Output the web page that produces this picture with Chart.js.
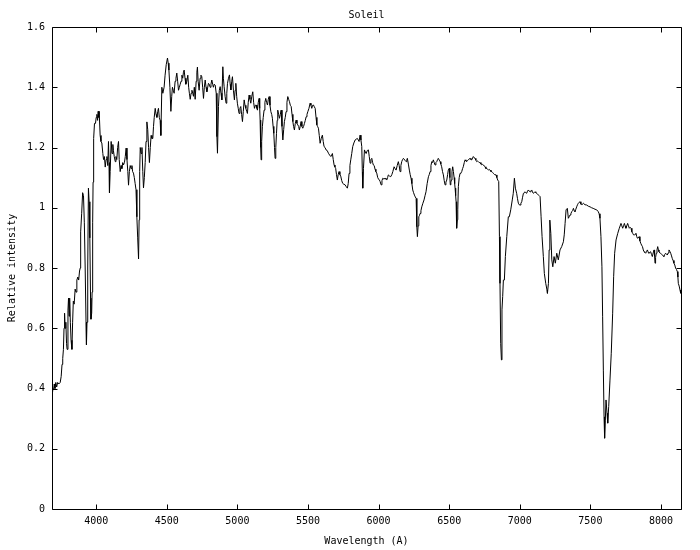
<!DOCTYPE html>
<html>
<head>
<meta charset="utf-8">
<title>Soleil</title>
<script src="https://cdn.jsdelivr.net/npm/chart.js@4.4.1/dist/chart.umd.min.js"></script>
<style>
  html, body { margin: 0; padding: 0; background: #fff; }
  canvas { display: block; }
</style>
</head>
<body>
<canvas id="chartSoleil" width="700" height="550"></canvas>
<script>
var titre = 'Soleil'
var labelX = 'Wavelength (A)'
var labelY = 'Relative intensity'

var xTicks = [4000, 4500, 5000, 5500, 6000, 6500, 7000, 7500, 8000]
var yTicks = [0, 0.2, 0.4, 0.6, 0.8, 1, 1.2, 1.4, 1.6]
var xMin = 3687
var xMax = 8142
var yMin = 0
var yMax = 1.6

// spectre : [longueur d'onde (A), intensite relative]
var spectrum = [
  [3687,0.39],[3692,0.40],[3698,0.395],[3703,0.415],[3708,0.40],[3714,0.42],[3720,0.405],[3727,0.42],[3735,0.415],[3745,0.42],
  [3752,0.44],[3758,0.48],[3763,0.50],[3768,0.53],[3772,0.60],[3776,0.65],[3780,0.60],[3785,0.62],[3790,0.55],[3794,0.53],
  [3800,0.66],[3804,0.70],[3808,0.64],[3812,0.70],[3817,0.62],[3822,0.56],[3828,0.53],[3833,0.62],[3838,0.69],[3844,0.68],
  [3851,0.73],[3857,0.72],[3863,0.76],[3870,0.77],[3876,0.76],[3882,0.79],[3887,0.80],
  [3890,0.92],[3897,0.98],[3904,1.05],[3910,1.04],[3916,0.95],[3922,0.80],[3928,0.62],[3931,0.545],[3935,0.62],[3940,0.80],
  [3945,1.065],[3950,1.02],[3955,0.90],[3960,0.70],[3963,0.63],[3968,0.65],[3971,0.72],[3975,0.95],[3978,1.085],[3982,1.23],
  [3988,1.28],[3995,1.28],[4000,1.30],[4005,1.31],[4010,1.29],[4014,1.32],[4018,1.30],[4021,1.32],[4028,1.24],[4034,1.22],
  [4040,1.215],[4047,1.18],[4052,1.16],[4058,1.17],[4064,1.135],[4070,1.16],[4076,1.17],[4082,1.14],[4087,1.22],[4091,1.15],
  [4094,1.05],[4099,1.12],[4106,1.22],[4112,1.18],[4118,1.21],[4122,1.19],[4128,1.17],[4135,1.153],[4140,1.17],[4146,1.16],
  [4152,1.20],[4158,1.22],[4163,1.16],[4170,1.12],[4176,1.14],[4182,1.13],[4188,1.15],[4193,1.142],[4200,1.15],[4206,1.17],
  [4212,1.198],[4218,1.16],[4224,1.12],[4229,1.075],[4235,1.12],[4241,1.14],[4247,1.13],[4253,1.14],[4258,1.12],[4264,1.115],
  [4270,1.10],[4276,1.08],[4282,1.06],[4288,0.97],[4294,0.90],[4300,0.83],[4304,0.96],[4308,1.12],[4312,1.20],[4318,1.18],
  [4324,1.20],[4330,1.12],[4335,1.066],[4341,1.10],[4347,1.15],[4353,1.22],[4359,1.285],[4365,1.26],[4371,1.20],[4377,1.15],
  [4383,1.20],[4389,1.24],[4395,1.23],[4401,1.23],[4406,1.27],[4411,1.30],[4418,1.33],[4424,1.31],[4430,1.30],[4436,1.32],
  [4441,1.33],[4447,1.30],[4453,1.29],[4458,1.24],[4465,1.40],[4472,1.38],[4481,1.40],[4488,1.44],[4496,1.475],[4505,1.497],
  [4510,1.48],[4515,1.457],[4522,1.40],[4529,1.32],[4535,1.37],[4540,1.40],[4546,1.39],[4552,1.38],[4559,1.42],[4565,1.43],
  [4571,1.447],[4577,1.42],[4583,1.39],[4589,1.40],[4595,1.41],[4601,1.42],[4607,1.44],[4613,1.43],[4618,1.45],[4623,1.457],
  [4629,1.43],[4635,1.41],[4642,1.42],[4649,1.44],[4655,1.40],[4660,1.38],[4666,1.36],[4672,1.38],[4678,1.39],[4684,1.38],
  [4689,1.37],[4695,1.40],[4701,1.36],[4708,1.42],[4713,1.45],[4717,1.467],[4722,1.42],[4729,1.39],
  [4736,1.43],[4742,1.44],[4748,1.435],[4754,1.40],[4760,1.363],[4766,1.40],[4772,1.424],[4778,1.40],[4784,1.385],[4790,1.40],
  [4795,1.413],[4801,1.41],[4807,1.40],[4813,1.41],[4819,1.424],[4825,1.41],[4830,1.40],[4836,1.41],[4843,1.407],[4850,1.38],
  [4855,1.236],[4859,1.181],[4866,1.336],[4872,1.39],[4878,1.402],[4884,1.38],[4890,1.358],[4897,1.468],[4901,1.43],[4906,1.402],
  [4913,1.37],[4920,1.347],[4925,1.38],[4930,1.413],[4937,1.43],[4944,1.441],[4949,1.41],[4954,1.391],[4960,1.42],[4965,1.435],
  [4972,1.39],[4979,1.358],[4984,1.39],[4989,1.413],[4995,1.37],[5000,1.347],[5006,1.33],[5012,1.313],[5018,1.33],[5024,1.336],
  [5030,1.31],[5036,1.286],[5042,1.32],[5048,1.358],[5054,1.34],[5060,1.330],[5066,1.32],[5071,1.313],[5077,1.35],[5083,1.374],
  [5089,1.36],[5095,1.347],[5102,1.37],[5109,1.385],[5115,1.35],[5121,1.330],[5127,1.34],[5133,1.341],[5138,1.33],[5142,1.324],
  [5148,1.35],[5154,1.363],[5158,1.33],[5161,1.291],[5165,1.20],[5168,1.159],[5172,1.22],[5177,1.269],[5183,1.30],[5189,1.324],
  [5195,1.35],[5201,1.363],[5207,1.35],[5213,1.341],[5219,1.36],[5225,1.369],[5231,1.34],[5237,1.319],[5243,1.31],[5248,1.297],
  [5253,1.27],[5258,1.247],[5263,1.20],[5267,1.164],[5272,1.20],[5277,1.247],[5282,1.29],[5286,1.324],[5292,1.31],[5298,1.297],
  [5304,1.31],[5310,1.324],[5316,1.27],[5322,1.225],[5328,1.26],[5333,1.286],[5339,1.30],[5345,1.319],[5351,1.35],[5357,1.369],
  [5363,1.36],[5369,1.352],[5375,1.34],[5381,1.336],[5387,1.31],[5393,1.286],[5398,1.27],[5404,1.258],[5410,1.28],[5416,1.291],
  [5422,1.28],[5428,1.275],[5434,1.27],[5439,1.258],[5445,1.27],[5451,1.286],[5457,1.27],[5463,1.264],[5469,1.27],[5475,1.280],
  [5481,1.29],[5487,1.302],[5493,1.31],[5499,1.319],[5507,1.33],[5515,1.347],[5521,1.34],[5527,1.330],[5533,1.34],[5539,1.341],
  [5545,1.335],[5551,1.33],[5557,1.30],[5563,1.275],[5568,1.27],[5574,1.264],[5580,1.24],[5586,1.214],[5594,1.23],[5602,1.241],
  [5608,1.22],[5614,1.203],[5621,1.20],[5628,1.192],[5636,1.19],[5645,1.181],[5653,1.175],[5662,1.170],[5668,1.175],[5673,1.18],
  [5679,1.16],[5685,1.142],[5691,1.135],[5696,1.131],[5702,1.11],[5708,1.092],[5714,1.11],[5720,1.120],[5726,1.11],[5732,1.105],
  [5739,1.09],[5746,1.081],[5754,1.078],[5763,1.076],[5771,1.07],[5779,1.065],[5785,1.08],[5791,1.114],[5797,1.14],[5803,1.159],
  [5810,1.18],[5817,1.203],[5825,1.215],[5834,1.225],[5842,1.228],[5850,1.230],[5856,1.225],[5862,1.22],[5869,1.241],[5875,1.225],
  [5881,1.203],[5885,1.12],[5888,1.065],[5893,1.13],[5900,1.192],[5906,1.185],[5912,1.18],[5920,1.19],[5928,1.192],[5934,1.17],
  [5940,1.148],[5946,1.16],[5952,1.164],[5958,1.15],[5963,1.142],[5969,1.14],[5975,1.128],[5981,1.12],[5987,1.115],[5994,1.10],
  [6000,1.095],[6006,1.092],[6011,1.087],[6018,1.076],[6024,1.09],[6030,1.098],[6038,1.095],[6046,1.098],[6052,1.095],[6058,1.092],
  [6064,1.10],[6069,1.109],[6078,1.105],[6086,1.103],[6094,1.11],[6101,1.120],[6110,1.136],[6117,1.13],[6124,1.125],[6132,1.14],
  [6140,1.153],[6146,1.14],[6152,1.120],[6158,1.14],[6164,1.153],[6170,1.16],[6176,1.164],[6186,1.158],[6195,1.153],[6200,1.16],
  [6204,1.164],[6211,1.145],[6218,1.125],[6224,1.11],[6230,1.098],[6236,1.08],[6242,1.059],[6248,1.05],[6254,1.042],[6260,1.036],
  [6266,1.031],[6271,0.937],[6275,0.904],[6280,0.94],[6285,0.970],[6290,0.975],[6294,0.981],[6300,0.99],[6306,1.003],[6314,1.015],
  [6322,1.026],[6329,1.04],[6336,1.053],[6344,1.08],[6353,1.103],[6359,1.11],[6365,1.120],[6371,1.14],[6377,1.153],[6382,1.15],
  [6388,1.159],[6394,1.15],[6400,1.142],[6406,1.15],[6412,1.153],[6418,1.16],[6423,1.164],[6430,1.158],[6436,1.153],[6441,1.145],
  [6447,1.136],[6453,1.12],[6459,1.109],[6465,1.09],[6471,1.076],[6477,1.085],[6483,1.092],[6489,1.11],[6494,1.125],[6501,1.131],
  [6505,1.10],[6508,1.076],[6512,1.085],[6516,1.092],[6520,1.12],[6525,1.136],[6530,1.12],[6535,1.10],[6539,1.08],[6542,1.065],
  [6546,1.04],[6549,1.020],[6552,0.96],[6554,0.932],[6558,0.96],[6561,0.993],[6565,1.070],[6571,1.10],[6577,1.114],[6583,1.115],
  [6589,1.120],[6595,1.13],[6600,1.136],[6607,1.15],[6613,1.159],[6619,1.155],[6624,1.153],[6630,1.157],[6636,1.159],[6642,1.162],
  [6648,1.164],[6654,1.16],[6660,1.159],[6666,1.165],[6671,1.170],[6677,1.166],[6683,1.164],[6689,1.158],[6695,1.153],[6701,1.155],
  [6707,1.153],[6713,1.15],[6719,1.150],[6725,1.145],[6731,1.142],[6737,1.144],[6743,1.142],[6749,1.138],[6754,1.136],[6760,1.13],
  [6766,1.131],[6772,1.128],[6778,1.125],[6784,1.127],[6790,1.125],[6796,1.12],[6802,1.120],[6808,1.117],[6813,1.114],[6822,1.11],
  [6832,1.109],[6838,1.10],[6844,1.092],[6851,1.087],[6856,0.904],[6860,0.749],[6865,0.550],[6870,0.495],[6874,0.661],[6879,0.705],
  [6884,0.760],[6891,0.76],[6898,0.838],[6908,0.904],[6919,0.970],[6926,0.97],[6936,0.993],[6947,1.026],[6954,1.048],[6962,1.098],
  [6969,1.065],[6978,1.048],[6984,1.03],[6990,1.015],[6996,1.01],[7002,1.009],[7008,1.015],[7014,1.020],[7020,1.035],[7026,1.048],
  [7032,1.05],[7037,1.053],[7043,1.05],[7049,1.048],[7055,1.055],[7061,1.059],[7067,1.055],[7073,1.053],[7079,1.056],[7085,1.059],
  [7090,1.052],[7096,1.048],[7102,1.05],[7108,1.053],[7114,1.05],[7120,1.048],[7126,1.045],[7132,1.042],[7138,1.04],[7144,1.037],
  [7151,0.970],[7158,0.904],[7167,0.838],[7174,0.782],[7184,0.749],[7193,0.727],[7196,0.716],[7203,0.749],[7208,0.860],[7213,0.959],
  [7220,0.915],[7227,0.827],[7234,0.804],[7243,0.838],[7252,0.816],[7262,0.849],[7273,0.827],[7285,0.860],[7297,0.871],[7309,0.887],
  [7315,0.91],[7321,0.948],[7328,0.993],[7337,0.998],[7344,0.965],[7350,0.97],[7356,0.976],[7362,0.98],[7368,0.987],[7374,0.99],
  [7380,0.998],[7386,0.99],[7391,0.987],[7397,0.995],[7403,1.003],[7409,1.01],[7415,1.015],[7421,1.018],[7427,1.020],[7433,1.012],
  [7439,1.009],[7445,1.013],[7450,1.015],[7462,1.01],[7474,1.009],[7486,1.005],[7498,1.003],[7509,1.0],[7520,0.998],[7533,0.995],
  [7545,0.993],[7556,0.987],[7562,0.98],[7568,0.965],[7575,0.904],[7582,0.804],[7587,0.638],[7592,0.461],[7597,0.306],[7601,0.235],
  [7606,0.295],[7611,0.362],[7618,0.318],[7623,0.285],[7630,0.340],[7639,0.428],[7648,0.517],[7658,0.650],[7665,0.771],[7672,0.849],
  [7682,0.893],[7694,0.915],[7705,0.932],[7717,0.948],[7723,0.94],[7729,0.932],[7735,0.94],[7741,0.948],[7746,0.94],[7752,0.932],
  [7758,0.94],[7764,0.948],[7770,0.94],[7776,0.932],[7782,0.935],[7788,0.932],[7794,0.92],[7800,0.915],[7806,0.91],[7812,0.910],
  [7818,0.912],[7823,0.915],[7828,0.905],[7833,0.899],[7839,0.90],[7845,0.904],[7851,0.89],[7857,0.882],[7863,0.876],[7869,0.871],
  [7875,0.86],[7880,0.854],[7886,0.852],[7892,0.849],[7898,0.855],[7904,0.860],[7910,0.852],[7915,0.849],[7921,0.852],[7927,0.854],
  [7933,0.845],[7939,0.838],[7945,0.85],[7951,0.860],[7955,0.84],[7958,0.816],[7962,0.835],[7967,0.849],[7972,0.86],[7977,0.871],
  [7982,0.86],[7986,0.854],[7992,0.85],[7998,0.849],[8004,0.846],[8010,0.843],[8016,0.84],[8021,0.838],[8027,0.845],[8033,0.849],
  [8039,0.846],[8045,0.843],[8051,0.85],[8057,0.860],[8063,0.855],[8069,0.849],[8075,0.84],[8080,0.832],[8086,0.825],[8092,0.816],
  [8098,0.81],[8104,0.799],[8110,0.795],[8116,0.788],[8120,0.77],[8123,0.749],[8129,0.74],[8135,0.727],[8140,0.716]
]

var police = { family: "'DejaVu Sans Mono', 'Liberation Mono', monospace", size: 10, weight: 'normal' }
var tickLen = 5

// cadre + graduations vers l'interieur, facon gnuplot
var cadreGnuplot = {
  id: 'cadreGnuplot',
  afterDraw(chart) {
    const ctx = chart.ctx
    const a = chart.chartArea
    const sx = chart.scales.x
    const sy = chart.scales.y
    const l = Math.round(a.left) + 0.5
    const r = Math.round(a.right) + 0.5
    const t = Math.round(a.top) + 0.5
    const b = Math.round(a.bottom) + 0.5
    ctx.save()
    ctx.strokeStyle = '#000'
    ctx.lineWidth = 1
    ctx.beginPath()
    ctx.rect(l, t, r - l, b - t)
    for (const v of xTicks) {
      const px = Math.round(sx.getPixelForValue(v)) + 0.5
      ctx.moveTo(px, b); ctx.lineTo(px, b - tickLen)
      ctx.moveTo(px, t); ctx.lineTo(px, t + tickLen)
    }
    for (const v of yTicks) {
      const py = Math.round(sy.getPixelForValue(v)) + 0.5
      ctx.moveTo(l, py); ctx.lineTo(l + tickLen, py)
      ctx.moveTo(r, py); ctx.lineTo(r - tickLen, py)
    }
    ctx.stroke()
    ctx.restore()
  }
}

var ctx = document.getElementById('chartSoleil').getContext('2d')

var graficoSoleil = new Chart(ctx, {
  type: 'line',
  data: {
    datasets: [{
      label: titre,
      data: spectrum.map(p => ({ x: p[0], y: p[1] })),
      borderColor: '#000',
      borderWidth: 1,
      pointRadius: 0,
      tension: 0,
      fill: false
    }]
  },
  options: {
    responsive: false,
    animation: false,
    layout: { padding: { top: 0, right: 19, bottom: 0, left: 0 } },
    plugins: {
      legend: { display: false },
      tooltip: { enabled: false },
      title: {
        display: true,
        text: titre,
        fullSize: false,
        color: '#000',
        font: police,
        padding: { top: 9, bottom: 6 }
      }
    },
    scales: {
      x: {
        type: 'linear',
        min: xMin,
        max: xMax,
        grid: { display: false, drawTicks: false },
        border: { display: false },
        afterFit: s => { s.height = 41 },
        afterBuildTicks: s => { s.ticks = xTicks.map(v => ({ value: v })) },
        ticks: { autoSkip: false, maxRotation: 0, padding: 6, color: '#000', font: police, callback: v => String(v) },
        title: { display: true, text: labelX, color: '#000', font: police, padding: { top: 0, bottom: 3 } }
      },
      y: {
        type: 'linear',
        min: yMin,
        max: yMax,
        grid: { display: false, drawTicks: false },
        border: { display: false },
        afterFit: s => { s.width = 52 },
        afterBuildTicks: s => { s.ticks = yTicks.map(v => ({ value: v })) },
        ticks: { padding: 7, color: '#000', font: police, callback: v => String(v) },
        title: { display: true, text: labelY, color: '#000', font: police, padding: { top: 6, bottom: 0 } }
      }
    }
  },
  plugins: [cadreGnuplot]
})
</script>
</body>
</html>
